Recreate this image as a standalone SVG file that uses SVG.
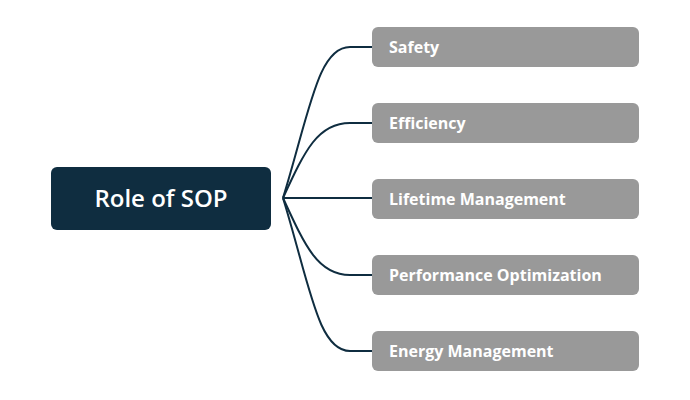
<svg xmlns="http://www.w3.org/2000/svg" width="690" height="400" viewBox="0 0 690 400">
<style>
.leaf rect{fill:#999999}
.leaf text{fill:#fff;font-family:"Open Sans","Liberation Sans",sans-serif;font-weight:bold;font-size:16px}
.c path{fill:none;stroke:#0f2d40;stroke-width:2}
</style>
<rect width="690" height="400" fill="#fff"/>
<g class="c">
<path d="M283,198 C310,110 318,47 350,47 L372,47"/>
<path d="M283,198 C305,150 318,123 350,123 L372,123"/>
<path d="M283,198 L372,198"/>
<path d="M283,198 C305,246 318,275 350,275 L372,275"/>
<path d="M283,198 C310,286 318,351 350,351 L372,351"/>
</g>
<g id="root"><rect x="51" y="167" width="220" height="63" rx="6" fill="#0f2d40"/>
<text x="161" y="207" text-anchor="middle" fill="#fff" font-family="'Open Sans','Liberation Sans',sans-serif" font-size="24" font-weight="600">Role of SOP</text></g>
<g id="n1" class="leaf"><rect x="372" y="27" width="267" height="40" rx="6"/><text x="389" y="53">Safety</text></g>
<g id="n2" class="leaf"><rect x="372" y="103" width="267" height="40" rx="6"/><text x="389" y="129">Efficiency</text></g>
<g id="n3" class="leaf"><rect x="372" y="179" width="267" height="40" rx="6"/><text x="389" y="205">Lifetime Management</text></g>
<g id="n4" class="leaf"><rect x="372" y="255" width="267" height="40" rx="6"/><text x="389" y="281">Performance Optimization</text></g>
<g id="n5" class="leaf"><rect x="372" y="331" width="267" height="40" rx="6"/><text x="389" y="357">Energy Management</text></g>
</svg>
